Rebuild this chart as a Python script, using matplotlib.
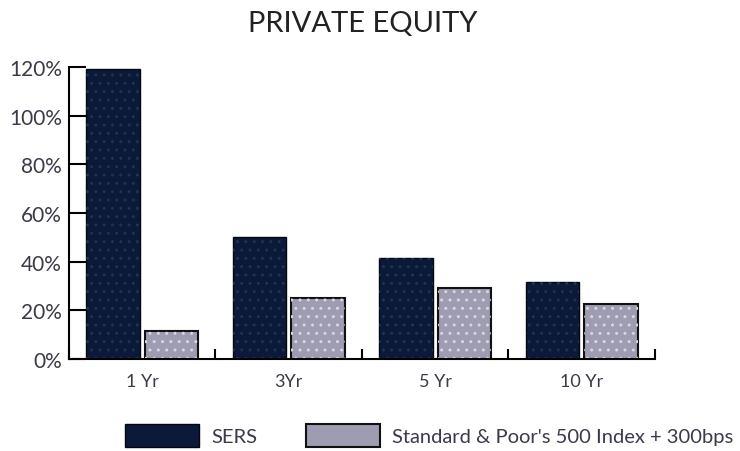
import numpy as np
import matplotlib.pyplot as plt

periods = ['1 Yr', '3Yr', '5 Yr', '10 Yr']
sers = [119, 50, 41.5, 31.5]
sp500 = [11.5, 25, 29, 22.5]
yticks = [0, 20, 40, 60, 80, 100, 120]

navy = '#0b1a38'
grey = '#9d9cb0'
txt = '#3a3a4a'

plt.rcParams['font.family'] = ['Lato', 'DejaVu Sans']

fig = plt.figure(figsize=(7.4, 4.52), dpi=100)
ax = fig.add_axes([0.093, 0.2035, 0.792, 0.646])

x = np.arange(len(periods))
w = 0.365
off = 0.2

b1 = ax.bar(x - off, sers, w, color=navy, edgecolor='#05080f', lw=1)
ax.bar(x - off, sers, w, fill=False, hatch='..', edgecolor='#1d3350', lw=0)
b2 = ax.bar(x + off, sp500, w, color=grey, edgecolor='#111111', lw=1.5)
ax.bar(x + off, sp500, w, fill=False, hatch='..', edgecolor='#d8d4e4', lw=0)

ax.set_xlim(-0.5, 3.5)
ax.set_ylim(0, 120)
ax.set_yticks(yticks)
ax.set_yticklabels([f'{v}%' for v in yticks], fontsize=15, color=txt)
ax.set_xticks(x)
ax.set_xticklabels(periods, fontsize=13, color=txt)
ax.tick_params(axis='x', length=0, pad=10)
ax.set_xticks(np.arange(-0.5, 4, 1), minor=True)
ax.tick_params(axis='x', which='minor', direction='in', length=7, width=1.5, color='black')
ax.tick_params(axis='y', direction='in', length=12, width=1.5, pad=5, color='black')

for s in ['top', 'right']:
    ax.spines[s].set_visible(False)
ax.spines['left'].set_linewidth(1.5)
ax.spines['bottom'].set_linewidth(1.5)

fig.text(0.49, 0.948, 'PRIVATE EQUITY', ha='center', va='center', fontsize=21, color='#222222')

leg = fig.legend([b1, b2], ['SERS', "Standard & Poor's 500 Index + 300bps"],
                 loc='center', bbox_to_anchor=(0.58, 0.035), ncol=2, frameon=False,
                 fontsize=14.5, handlelength=3.7, handleheight=1.4, columnspacing=2.4,
                 handletextpad=0.6, borderpad=0.2)
for t in leg.get_texts():
    t.set_color(txt)

fig.savefig('out.png', dpi=100)
